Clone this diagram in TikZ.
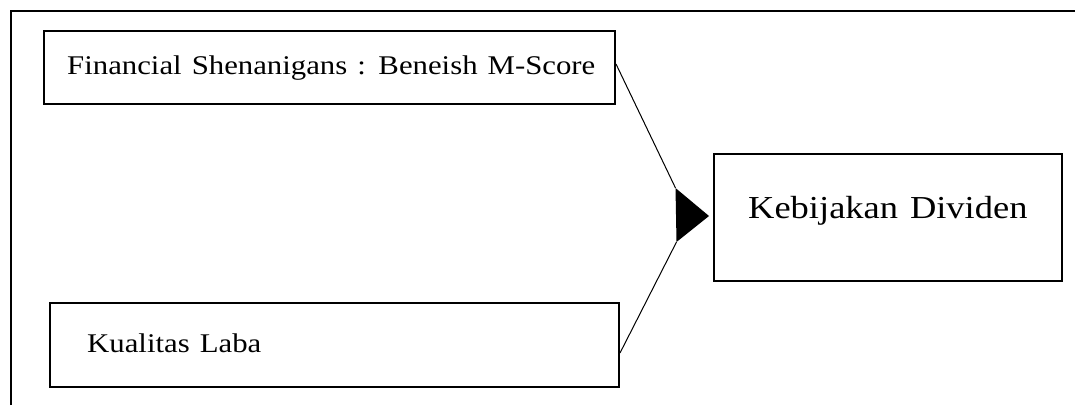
\documentclass[tikz,border=0pt]{standalone}
\usepackage{fontspec}
\setmainfont{Liberation Serif}[FakeStretch=1.14,WordSpace=1.3]
\begin{document}
\begin{tikzpicture}[x=1pt,y=-1pt,
  boxstyle/.style={draw, line width=2pt, inner sep=0pt},
  lbl/.style={anchor=base west, inner sep=0pt, font=\fontsize{27}{32}\selectfont},
  conn/.style={line width=1pt}]
\useasboundingbox (0,0) rectangle (1075,405);
% outer frame (cropped)
\draw[line width=2.5pt] (11,405) -- (11,11) -- (1075,11);
% boxes
\node[boxstyle, minimum width=571pt, minimum height=73pt] (fin) at (329.5,67.5) {};
\node[boxstyle, minimum width=569pt, minimum height=84pt] (kual) at (334.5,345) {};
\node[boxstyle, minimum width=348pt, minimum height=127pt] (keb) at (888,217.5) {};
% labels
\node[lbl] (finlbl) at (67,74) {Financial Shenanigans : Beneish M-Score};
\node[lbl] (kuallbl) at (87,352) {Kualitas Laba};
\node[lbl, font=\fontsize{32}{38}\selectfont] (keblbl) at (748,218) {Kebijakan Dividen};
% arrowhead
\coordinate (at1) at (675.5,188);
\coordinate (at2) at (676.5,242);
\coordinate (tip) at (709,216);
\fill (at1) -- (tip) -- (at2) -- cycle;
% connectors
\draw[conn] ([yshift=3.5pt]fin.east) -- (at1);
\draw[conn] ([yshift=-8pt]kual.east) -- (at2);
\end{tikzpicture}
\end{document}
